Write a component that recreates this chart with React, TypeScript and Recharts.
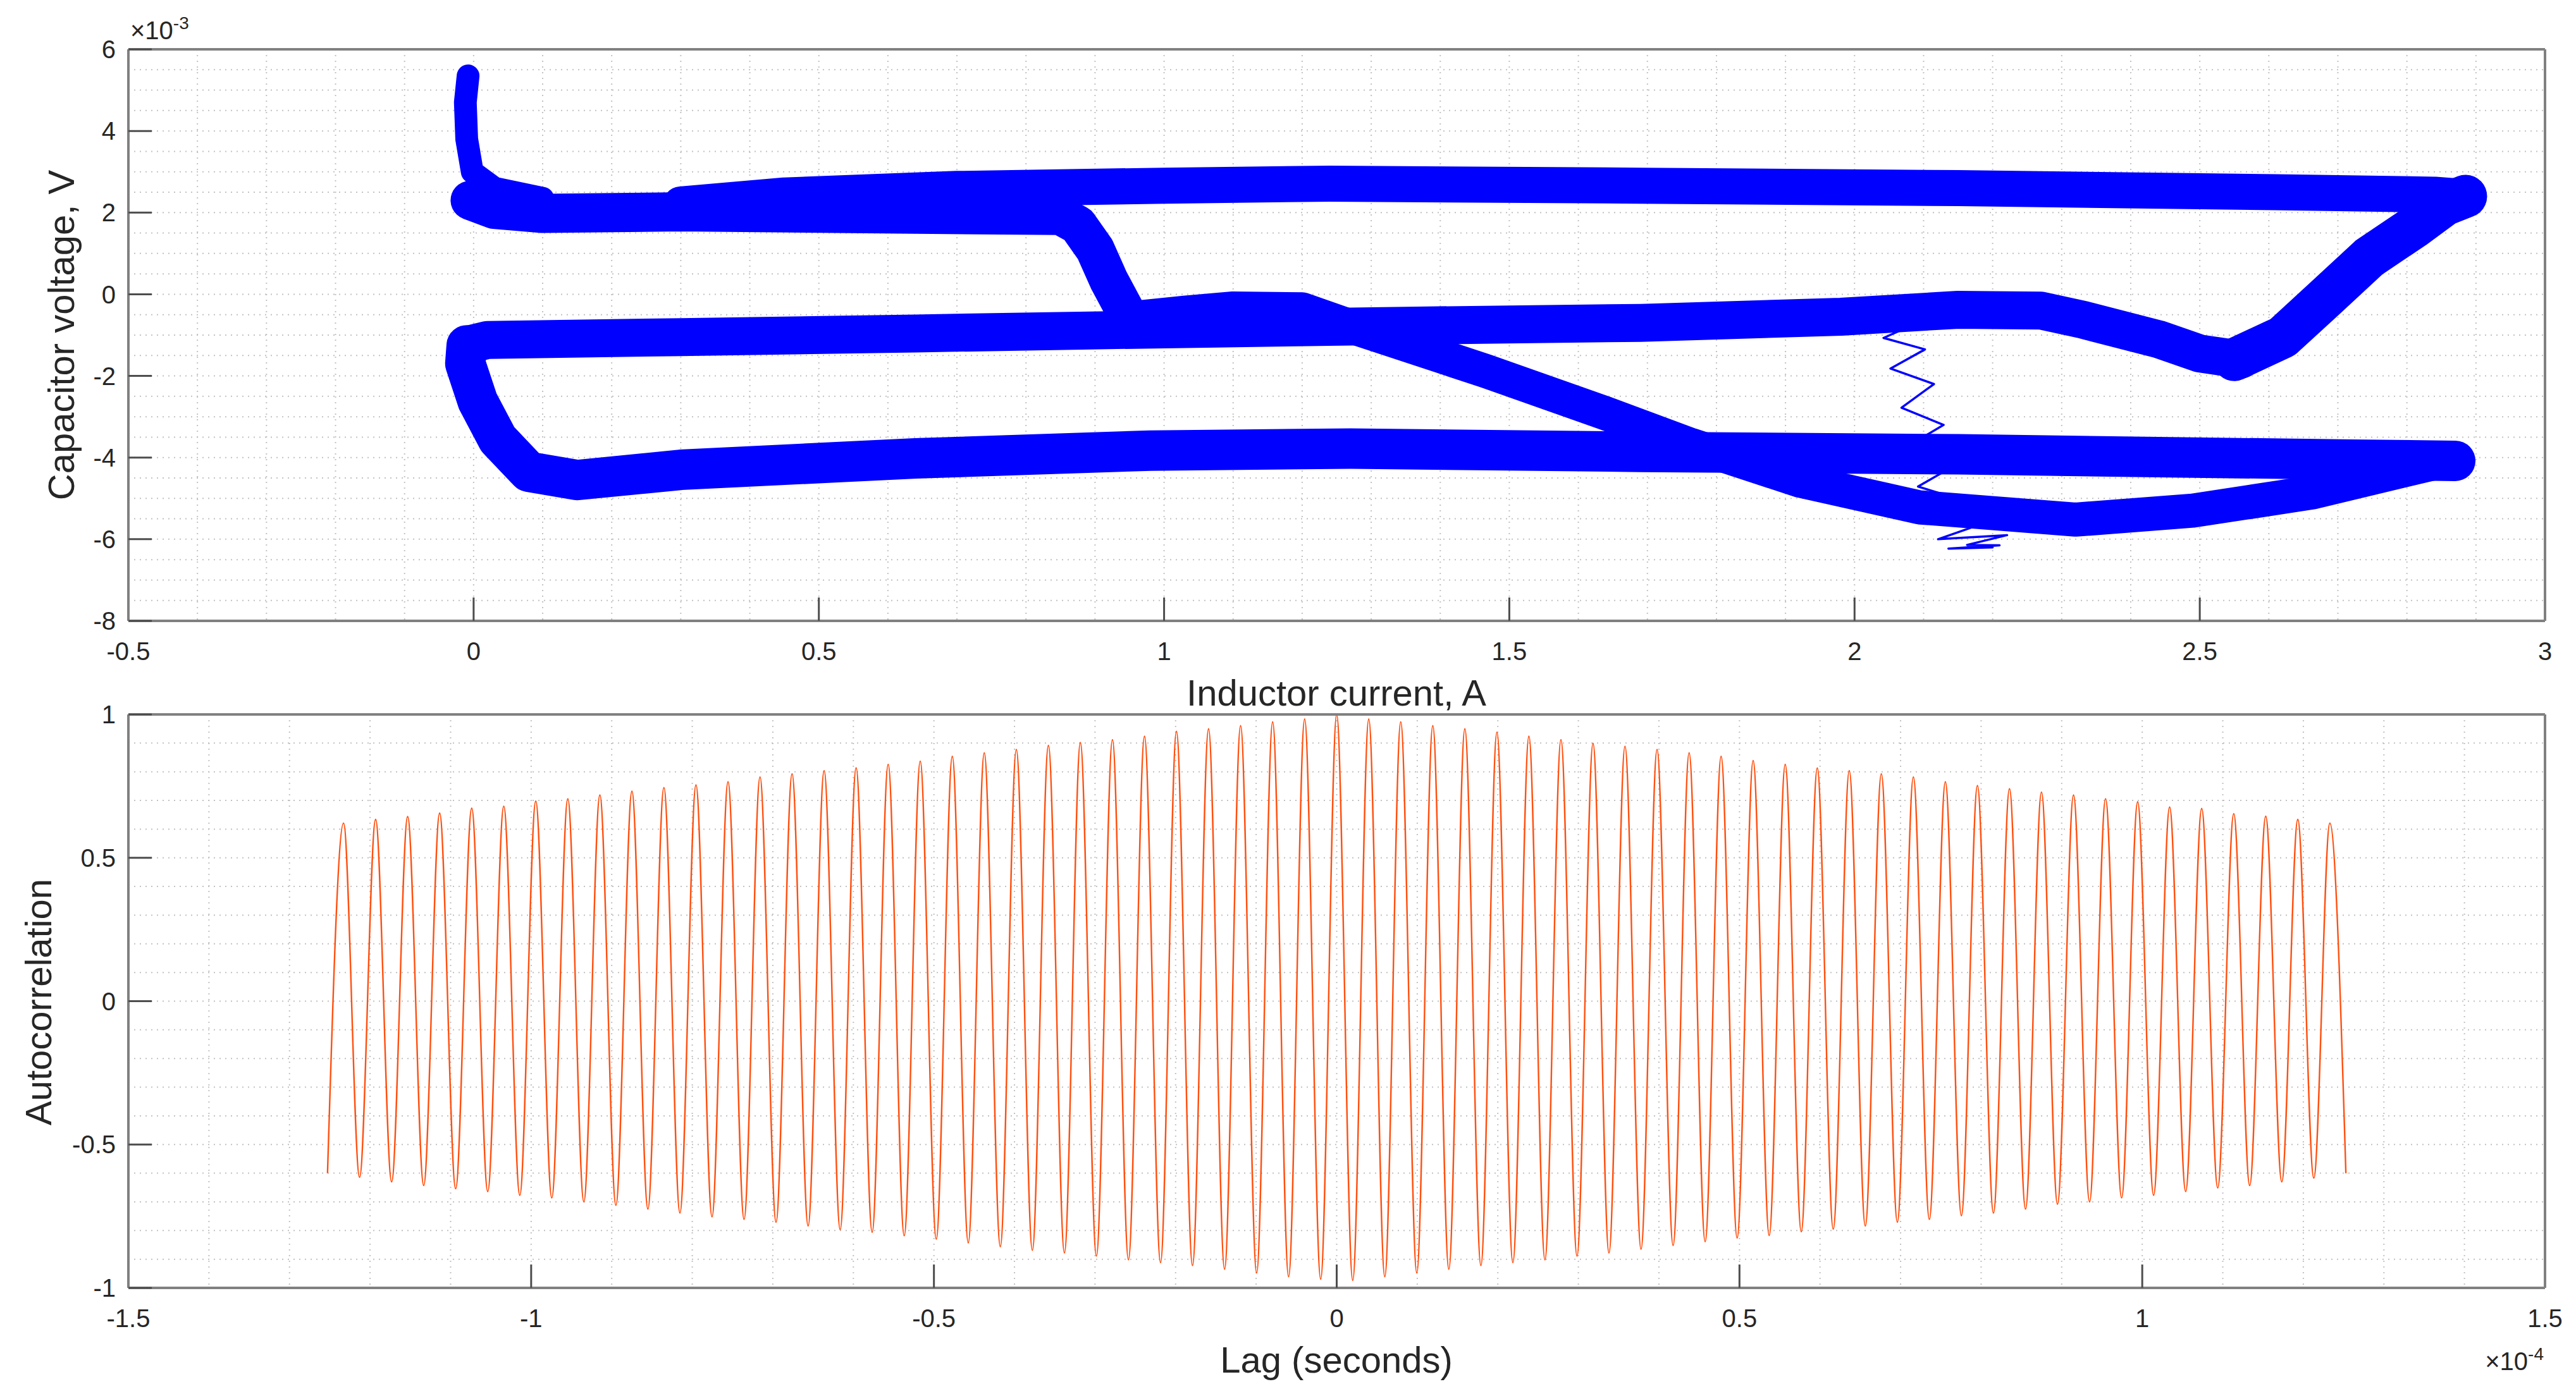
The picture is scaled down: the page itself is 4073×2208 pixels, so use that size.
import { ScatterChart, Scatter, LineChart, Line, XAxis, YAxis, CartesianGrid } from 'recharts';

// ---- top panel: inductor current (A) vs capacitor voltage (x1e-3 V) ----
const spikeTrace: [number, number][] = [
  [-0.008, 5.35], [-0.012, 4.7], [-0.01, 3.8], [-0.002, 3.0], [0.03, 2.6], [0.1, 2.35],
];
const upperBand: [number, number][] = [
  [-0.005, 2.3], [0.03, 2.08], [0.1, 1.98], [0.3, 2.02], [0.64, 1.96], [0.85, 1.93],
  [0.875, 1.7], [0.9, 1.1], [0.92, 0.34], [0.945, -0.45],
];
const topBand: [number, number][] = [
  [0.3, 2.2], [0.45, 2.42], [0.7, 2.58], [1.0, 2.66], [1.24, 2.71], [1.69, 2.66],
  [2.15, 2.6], [2.61, 2.5], [2.84, 2.44], [2.885, 2.38],
];
const rightArm: [number, number][] = [
  [2.55, -1.6], [2.62, -1.05], [2.68, -0.12], [2.745, 0.9], [2.81, 1.64], [2.855, 2.2], [2.885, 2.4],
];
const middleBand: [number, number][] = [
  [0.0, -1.2], [0.02, -1.12], [0.3, -1.05], [0.64, -0.96], [0.92, -0.88], [1.35, -0.77],
  [1.69, -0.7], [1.98, -0.55], [2.15, -0.38], [2.27, -0.4], [2.33, -0.62], [2.44, -1.1],
  [2.5, -1.45], [2.56, -1.6],
];
const lowerBand: [number, number][] = [
  [-0.01, -1.25], [-0.012, -1.7], [0.006, -2.62], [0.035, -3.55], [0.08, -4.35], [0.15, -4.55],
  [0.3, -4.3], [0.64, -4.02], [0.98, -3.83], [1.27, -3.78], [1.69, -3.86], [2.15, -3.92],
  [2.49, -4.0], [2.72, -4.05], [2.87, -4.08],
];
const lowerLoop: [number, number][] = [
  [0.945, -0.6], [1.03, -0.45], [1.1, -0.35], [1.2, -0.37], [1.283, -0.86], [1.466, -1.88],
  [1.637, -2.9], [1.763, -3.69], [1.922, -4.57], [2.094, -5.22], [2.32, -5.52], [2.49, -5.3],
  [2.664, -4.85], [2.836, -4.15], [2.87, -4.05],
];
const squiggle: [number, number][] = [
  [2.089, -0.714], [2.042, -1.07], [2.102, -1.35], [2.052, -1.82], [2.115, -2.2], [2.068, -2.78],
  [2.129, -3.2], [2.091, -3.58], [2.131, -4.33], [2.092, -4.71], [2.152, -5.02], [2.168, -5.72],
  [2.121, -6.0], [2.221, -5.9], [2.163, -6.14], [2.21, -6.15], [2.136, -6.23], [2.2, -6.2],
];

const currentTicks = [-0.5, 0, 0.5, 1, 1.5, 2, 2.5, 3];
const voltageTicks = [-8, -6, -4, -2, 0, 2, 4, 6];

// ---- bottom panel: autocorrelation vs lag (x1e-4 s) ----
const lagValues = [
  -1.2528, -1.2329, -1.213, -1.1931, -1.1732, -1.1533, -1.1334, -1.1136, -1.0937, -1.0738,
  -1.0539, -1.034, -1.0141, -0.9943, -0.9744, -0.9545, -0.9346, -0.9147, -0.8948, -0.8749,
  -0.8551, -0.8352, -0.8153, -0.7954, -0.7755, -0.7556, -0.7357, -0.7159, -0.696, -0.6761,
  -0.6562, -0.6363, -0.6164, -0.5966, -0.5767, -0.5568, -0.5369, -0.517, -0.4971, -0.4772,
  -0.4574, -0.4375, -0.4176, -0.3977, -0.3778, -0.3579, -0.338, -0.3182, -0.2983, -0.2784,
  -0.2585, -0.2386, -0.2187, -0.1989, -0.179, -0.1591, -0.1392, -0.1193, -0.0994, -0.0795,
  -0.0597, -0.0398, -0.0199, 0,
  0.0199, 0.0398, 0.0597, 0.0795, 0.0994, 0.1193, 0.1392, 0.1591, 0.179, 0.1989,
  0.2187, 0.2386, 0.2585, 0.2784, 0.2983, 0.3182, 0.338, 0.3579, 0.3778, 0.3977,
  0.4176, 0.4375, 0.4574, 0.4772, 0.4971, 0.517, 0.5369, 0.5568, 0.5767, 0.5966,
  0.6164, 0.6363, 0.6562, 0.6761, 0.696, 0.7159, 0.7357, 0.7556, 0.7755, 0.7954,
  0.8153, 0.8352, 0.8551, 0.8749, 0.8948, 0.9147, 0.9346, 0.9545, 0.9744, 0.9943,
  1.0141, 1.034, 1.0539, 1.0738, 1.0937, 1.1136, 1.1334, 1.1533, 1.1732, 1.1931,
  1.213, 1.2329, 1.2528,
];
const acfValues = [
  -0.6, 0.621, -0.614, 0.634, -0.63, 0.644, -0.643, 0.656, -0.654, 0.673,
  -0.664, 0.68, -0.677, 0.698, -0.686, 0.706, -0.7, 0.719, -0.712, 0.732,
  -0.725, 0.745, -0.739, 0.754, -0.752, 0.765, -0.761, 0.782, -0.771, 0.793,
  -0.784, 0.804, -0.797, 0.814, -0.806, 0.826, -0.818, 0.837, -0.83, 0.854,
  -0.843, 0.866, -0.856, 0.878, -0.869, 0.892, -0.878, 0.902, -0.889, 0.912,
  -0.902, 0.924, -0.912, 0.941, -0.922, 0.95, -0.935, 0.961, -0.948, 0.974,
  -0.961, 0.984, -0.97, 1.0,
  -0.974, 0.984, -0.961, 0.974, -0.948, 0.961, -0.935, 0.95, -0.922, 0.938,
  -0.912, 0.924, -0.902, 0.912, -0.889, 0.899, -0.878, 0.889, -0.865, 0.878,
  -0.852, 0.866, -0.839, 0.854, -0.826, 0.839, -0.817, 0.826, -0.804, 0.813,
  -0.795, 0.804, -0.784, 0.793, -0.771, 0.782, -0.761, 0.765, -0.748, 0.752,
  -0.739, 0.741, -0.725, 0.729, -0.708, 0.719, -0.7, 0.706, -0.686, 0.695,
  -0.677, 0.677, -0.664, 0.672, -0.651, 0.654, -0.643, 0.645, -0.63, 0.634,
  -0.617, 0.621, -0.6,
];
const lagTicks = [-1.5, -1, -0.5, 0, 0.5, 1, 1.5];
const acfTicks = [-1, -0.5, 0, 0.5, 1];

const FONT = '"Liberation Sans", Arial, Helvetica, sans-serif';
const BLUE = '#0000ff';
const ORANGE = '#ff5010';

// grid lines every minor step (MATLAB minor grid)
const steps = (from: number, to: number, step: number) => {
  const out: number[] = [];
  for (let v = from; v <= to + step / 2; v += step) out.push(Math.round(v * 1000) / 1000);
  return out;
};

const axisLine = { stroke: '#808080', strokeWidth: 4 };
const tickLine = { stroke: '#4d4d4d', strokeWidth: 3 };
const tickText = { fill: '#262626', fontSize: 40, fontFamily: FONT };
const gridProps = { stroke: '#c2c2c2', strokeWidth: 2, strokeDasharray: '2 7' };

const toPoints = (arr: [number, number][]) => arr.map(([i, v]) => ({ i, v }));

// stroke widths approximate the thickness of each smeared band
const topSeries = [
  { name: 'spike', data: spikeTrace, width: 36 },
  { name: 'upper', data: upperBand, width: 62 },
  { name: 'top', data: topBand, width: 57 },
  { name: 'middle', data: middleBand, width: 60 },
  { name: 'right', data: rightArm, width: 68 },
  { name: 'lower', data: lowerBand, width: 64 },
  { name: 'loop', data: lowerLoop, width: 54 },
  { name: 'squiggle', data: squiggle, width: 3.5 },
];

const acfData = lagValues.map((lag, k) => ({ lag, acf: acfValues[k] }));

const noDot = () => <g />;

function PhasePortrait() {
  return (
    <ScatterChart width={4073} height={1125} margin={{ top: 0, right: 0, bottom: 0, left: 0 }}>
      <CartesianGrid
        xAxisId="x"
        yAxisId="y"
        verticalValues={steps(-0.5, 3, 0.1)}
        horizontalValues={steps(-8, 6, 0.5)}
        {...gridProps}
      />
      <XAxis
        xAxisId="x"
        dataKey="i"
        type="number"
        domain={[-0.5, 3]}
        ticks={currentTicks}
        interval={0}
        allowDataOverflow
        height={143}
        tickSize={-37}
        tickMargin={71}
        axisLine={axisLine}
        tickLine={tickLine}
        tick={tickText}
      />
      <XAxis
        xAxisId="xt"
        orientation="top"
        type="number"
        domain={[-0.5, 3]}
        ticks={currentTicks}
        interval={0}
        allowDataOverflow
        height={78}
        tickSize={-37}
        axisLine={axisLine}
        tickLine={tickLine}
        tick={false}
      />
      <YAxis
        yAxisId="y"
        dataKey="v"
        type="number"
        domain={[-8, 6]}
        ticks={voltageTicks}
        interval={0}
        allowDataOverflow
        width={203}
        tickSize={-37}
        tickMargin={57}
        axisLine={axisLine}
        tickLine={tickLine}
        tick={tickText}
      />
      <YAxis
        yAxisId="yr"
        orientation="right"
        type="number"
        domain={[-8, 6]}
        ticks={voltageTicks}
        interval={0}
        allowDataOverflow
        width={49}
        tickSize={-37}
        axisLine={axisLine}
        tickLine={tickLine}
        tick={false}
      />
      {topSeries.map((s) => (
        <Scatter
          key={s.name}
          xAxisId="x"
          yAxisId="y"
          data={toPoints(s.data)}
          fill={BLUE}
          line={{ stroke: BLUE, strokeWidth: s.width, strokeLinejoin: 'round', strokeLinecap: 'round' }}
          lineType="joint"
          shape={noDot}
          legendType="none"
          isAnimationActive={false}
        />
      ))}
    </ScatterChart>
  );
}

function Autocorrelation() {
  return (
    <LineChart width={4073} height={1108} data={acfData} margin={{ top: 0, right: 0, bottom: 0, left: 0 }}>
      <CartesianGrid
        xAxisId="x"
        yAxisId="y"
        verticalValues={steps(-1.5, 1.5, 0.1)}
        horizontalValues={steps(-1, 1, 0.1)}
        {...gridProps}
      />
      <XAxis
        xAxisId="x"
        dataKey="lag"
        type="number"
        domain={[-1.5, 1.5]}
        ticks={lagTicks}
        interval={0}
        allowDataOverflow
        height={171}
        tickSize={-37}
        tickMargin={71}
        axisLine={axisLine}
        tickLine={tickLine}
        tick={tickText}
      />
      <XAxis
        xAxisId="xt"
        orientation="top"
        type="number"
        domain={[-1.5, 1.5]}
        ticks={lagTicks}
        interval={0}
        allowDataOverflow
        height={30}
        tickSize={-37}
        axisLine={axisLine}
        tickLine={tickLine}
        tick={false}
      />
      <YAxis
        yAxisId="y"
        type="number"
        domain={[-1, 1]}
        ticks={acfTicks}
        interval={0}
        allowDataOverflow
        width={203}
        tickSize={-37}
        tickMargin={57}
        axisLine={axisLine}
        tickLine={tickLine}
        tick={tickText}
      />
      <YAxis
        yAxisId="yr"
        orientation="right"
        type="number"
        domain={[-1, 1]}
        ticks={acfTicks}
        interval={0}
        allowDataOverflow
        width={49}
        tickSize={-37}
        axisLine={axisLine}
        tickLine={tickLine}
        tick={false}
      />
      <Line
        xAxisId="x"
        yAxisId="y"
        dataKey="acf"
        type="monotone"
        stroke={ORANGE}
        strokeWidth={2.4}
        dot={false}
        isAnimationActive={false}
      />
    </LineChart>
  );
}

const textBase = { position: 'absolute' as const, fontFamily: FONT, color: '#262626', whiteSpace: 'nowrap' as const, lineHeight: 1 };

export default function App() {
  return (
    <div style={{ position: 'relative', width: 4073, height: 2208, background: '#fff', overflow: 'hidden' }}>
      <style>{'body{margin:0}'}</style>
      <div style={{ position: 'absolute', left: 0, top: 0 }}>
        <PhasePortrait />
      </div>
      <div style={{ position: 'absolute', left: 0, top: 1100 }}>
        <Autocorrelation />
      </div>

      <div style={{ ...textBase, left: 97, top: 530, fontSize: 58, transform: 'translate(-50%, -50%) rotate(-90deg)' }}>
        Capacitor voltage, V
      </div>
      <div style={{ ...textBase, left: 2113, top: 1096, fontSize: 58, transform: 'translate(-50%, -50%)' }}>
        Inductor current, A
      </div>
      <div style={{ ...textBase, left: 61, top: 1585, fontSize: 58, transform: 'translate(-50%, -50%) rotate(-90deg)' }}>
        Autocorrelation
      </div>
      <div style={{ ...textBase, left: 2113, top: 2151, fontSize: 58, transform: 'translate(-50%, -50%)' }}>
        Lag (seconds)
      </div>

      <div style={{ ...textBase, left: 206, top: 28, fontSize: 40 }}>
        ×10<span style={{ fontSize: 28, position: 'relative', top: -16 }}>-3</span>
      </div>
      <div style={{ ...textBase, right: 51, top: 2133, fontSize: 40 }}>
        ×10<span style={{ fontSize: 28, position: 'relative', top: -16 }}>-4</span>
      </div>
    </div>
  );
}
